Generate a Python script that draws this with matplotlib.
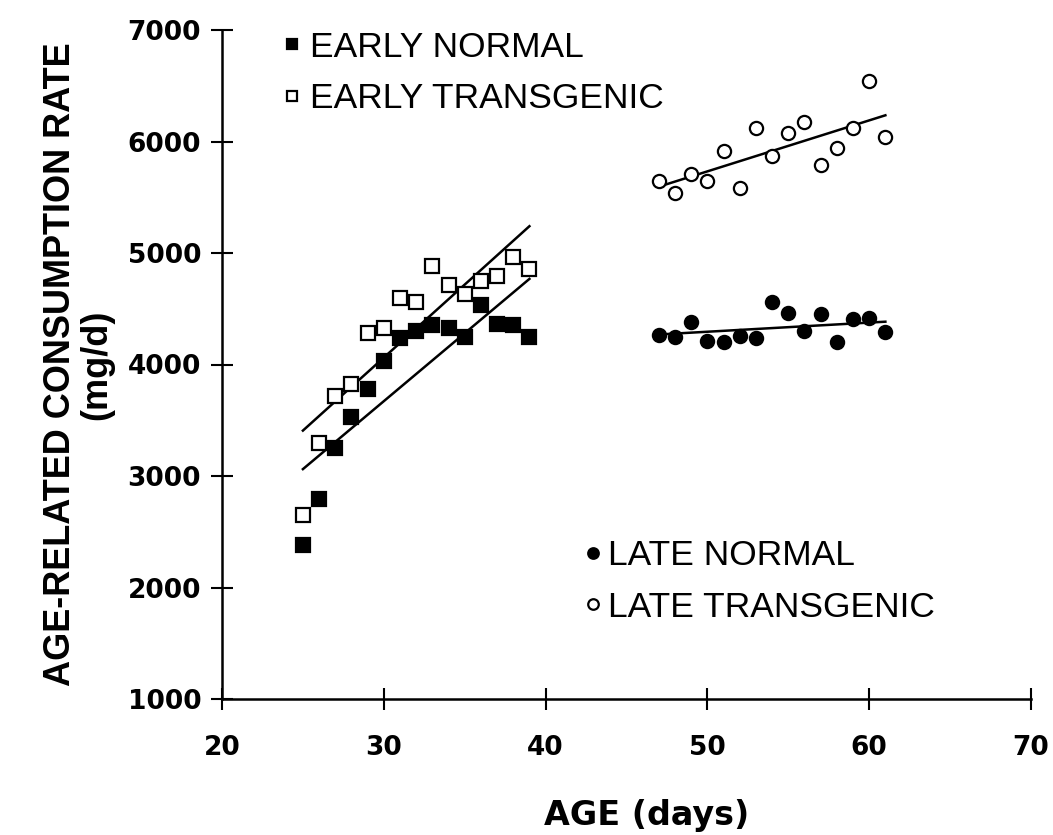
import numpy as np
import matplotlib
matplotlib.use("Agg")
import matplotlib.pyplot as plt

plt.rcParams['font.family'] = ['Liberation Sans', 'DejaVu Sans']

# ages (days)
early_age = [25, 26, 27, 28, 29, 30, 31, 32, 33, 34, 35, 36, 37, 38, 39]
late_age = [47, 48, 49, 50, 51, 52, 53, 54, 55, 56, 57, 58, 59, 60, 61]

# consumption rate (mg/d)
early_normal = [2380, 2790, 3250, 3530, 3780, 4030, 4240, 4300, 4350, 4330,
                4250, 4530, 4360, 4350, 4250]
early_transgenic = [2650, 3300, 3717, 3825, 4280, 4325, 4600, 4558, 4886, 4713,
                    4632, 4752, 4794, 4967, 4857]
late_normal = [4265, 4249, 4384, 4213, 4199, 4258, 4240, 4563, 4465, 4300,
               4450, 4205, 4405, 4414, 4289]
late_transgenic = [5646, 5541, 5709, 5646, 5918, 5580, 6124, 5870, 6079, 6172,
                   5789, 5939, 6124, 6545, 6043]

fig = plt.figure(figsize=(10.53, 8.35), dpi=100)
ax = fig.add_axes([222 / 1053, 1 - 699 / 835, 809 / 1053, 669 / 835])


def fit_line(x, y):
    x = np.array(x, dtype=float)
    k, b = np.polyfit(x, y, 1)
    xs = np.array([x.min(), x.max()])
    ax.plot(xs, k * xs + b, color='black', lw=1.8, zorder=2)


series = [
    (early_age, early_normal, 's', 'black', 'EARLY NORMAL'),
    (early_age, early_transgenic, 's', 'white', 'EARLY TRANSGENIC'),
    (late_age, late_normal, 'o', 'black', 'LATE NORMAL'),
    (late_age, late_transgenic, 'o', 'white', 'LATE TRANSGENIC'),
]
handles = []
for x, y, m, fc, lab in series:
    fit_line(x, y)
    h, = ax.plot(x, y, ls='none', marker=m, ms=9.5, mfc=fc, mec='black',
                 mew=1.6, label=lab, zorder=3)
    handles.append(h)

leg_kw = dict(loc='upper left', frameon=False, fontsize=25.5, handlelength=0.5,
              labelspacing=0.52, markerscale=0.8, borderaxespad=0)
leg1 = ax.legend(handles=handles[:2], bbox_to_anchor=(0.058, 1.02),
                 handletextpad=0.27, **leg_kw)
ax.add_artist(leg1)
ax.legend(handles=handles[2:], bbox_to_anchor=(0.43, 0.26),
          handletextpad=0.17, **leg_kw)

ax.set_xlim(20, 70)
ax.set_ylim(1000, 7000)
ax.set_xticks(range(20, 71, 10))
ax.set_yticks(range(1000, 7001, 1000))
for s in ['top', 'right']:
    ax.spines[s].set_visible(False)
for s in ['left', 'bottom']:
    ax.spines[s].set_linewidth(1.8)
ax.tick_params(axis='both', direction='inout', length=16, width=1.5)
ax.tick_params(axis='y', pad=7)
ax.tick_params(axis='x', pad=18)
for t in ax.get_xticklabels() + ax.get_yticklabels():
    t.set_family('DejaVu Sans')
    t.set_fontweight('bold')
    t.set_fontsize(19)

ax.set_xlabel('AGE (days)', fontsize=24, fontweight='bold',
              family='DejaVu Sans')
ax.xaxis.set_label_coords(0.525, -0.15)
ax.set_ylabel('AGE-RELATED CONSUMPTION RATE\n(mg/d)', fontsize=26,
              fontweight='bold', linespacing=1.05)
ax.yaxis.set_label_coords(-0.133, 0.5)

fig.savefig('out.png', dpi=100)
